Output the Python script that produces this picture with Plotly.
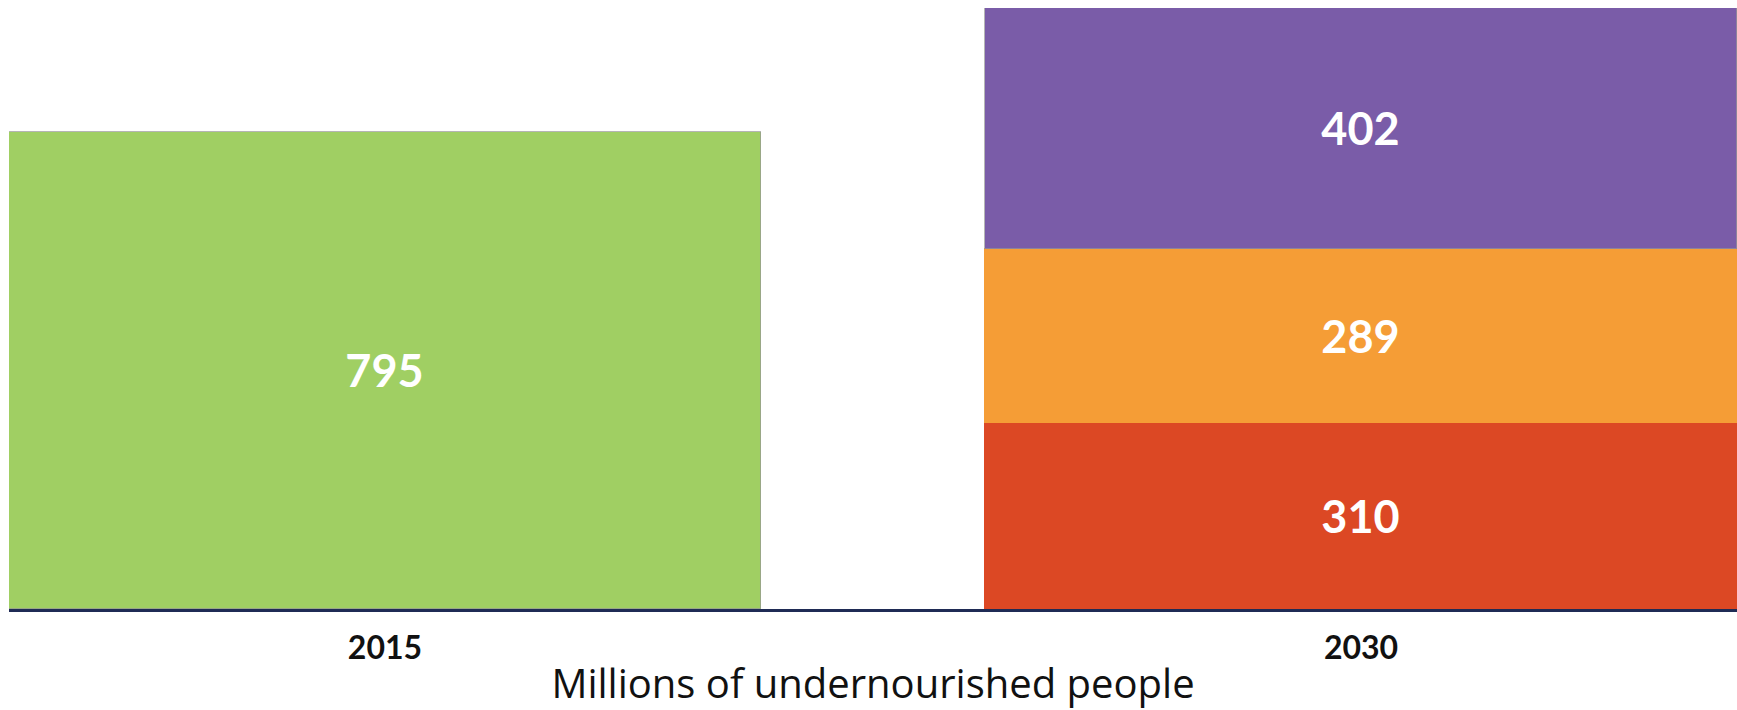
import plotly.graph_objects as go

# Undernourished people (millions): 2015 total and 2030 projection split in three parts
years = ["2015", "2030"]
total_2015 = [795, None]
part_low = [None, 310]
part_mid = [None, 289]
part_high = [None, 402]

green = "#a0cf63"
red = "#dc4824"
orange = "#f59d36"
purple = "#7a5ca8"

bar_w = 0.7705
label_font = dict(family="Lato", size=45, color="white")

fig = go.Figure()


def add_part(values, color, edge):
    fig.add_trace(go.Bar(
        x=years, y=values, width=bar_w,
        marker=dict(color=color, line=dict(color=edge, width=1)),
        texttemplate="<b>%{y}</b>", textposition="inside",
        insidetextanchor="middle", textangle=0,
        textfont=label_font, showlegend=False, hoverinfo="skip",
    ))


add_part(total_2015, green, "rgba(150,150,150,0.7)")
add_part(part_low, red, red)
add_part(part_mid, orange, orange)
add_part(part_high, purple, "rgba(150,150,150,0.7)")

fig.update_layout(
    width=1737, height=710,
    margin=dict(l=9, r=0, t=8, b=101),
    barmode="stack", bargap=0,
    plot_bgcolor="white", paper_bgcolor="white",
    font=dict(family="Lato", color="#111111"),
    xaxis=dict(
        type="category", range=[-0.3852, 1.3852],
        showline=True, linecolor="#1f2b55", linewidth=3,
        showgrid=False, ticks="", zeroline=False,
        tickfont=dict(family="Lato", size=32, color="#111111", weight="bold"),
        ticklabelstandoff=9,
        title=dict(text="Millions of undernourished people",
                   font=dict(family="Open Sans", size=40, color="#111111"),
                   standoff=8),
    ),
    yaxis=dict(range=[0, 1001], visible=False, showgrid=False, zeroline=False),
)

fig.write_html("out.html")
